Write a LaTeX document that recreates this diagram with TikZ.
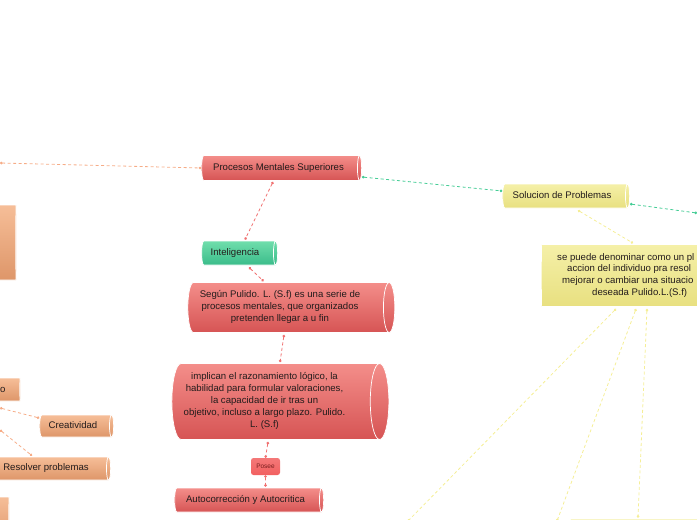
\documentclass[tikz,border=0pt]{standalone}
\usepackage{fontspec}
\setmainfont{Liberation Sans}
\usetikzlibrary{shapes.geometric,arrows.meta,calc}
\definecolor{redtop}{RGB}{244,142,138}
\definecolor{redbot}{RGB}{214,84,84}
\definecolor{greentop}{RGB}{112,222,172}
\definecolor{greenbot}{RGB}{58,188,138}
\definecolor{yeltop}{RGB}{245,240,168}
\definecolor{yelbot}{RGB}{232,224,128}
\definecolor{ortop}{RGB}{246,190,152}
\definecolor{orbot}{RGB}{222,150,105}
\definecolor{txt}{RGB}{35,28,28}
\definecolor{oline}{RGB}{246,172,135}
\definecolor{gline}{RGB}{70,205,150}
\definecolor{rline}{RGB}{240,112,112}
\definecolor{yline}{RGB}{245,238,150}
\definecolor{poseefill}{RGB}{242,96,96}
\definecolor{poseetxt}{RGB}{120,30,30}
\tikzset{
  cyl/.style={cylinder, shape border rotate=0, aspect=0.3, draw=white, line width=0.7pt,
    text=txt, font=\fontsize{9.6}{12}\selectfont, inner xsep=3pt, inner ysep=1pt},
  redc/.style={cyl, top color=redtop, bottom color=redbot},
  greenc/.style={cyl, top color=greentop, bottom color=greenbot},
  yelc/.style={cyl, top color=yeltop, bottom color=yelbot},
  orc/.style={cyl, top color=ortop, bottom color=orbot},
  sz/.style 2 args={minimum height=#1, minimum width=#2},
  conn/.style={dashed, dash pattern=on 3pt off 2.5pt, line width=0.8pt,
    {Circle[length=2.6pt]}-{Circle[length=2.6pt]}},
  olink/.style={conn, draw=oline},
  glink/.style={conn, draw=gline},
  rlink/.style={conn, draw=rline},
  ylink/.style={conn, draw=yline},
}
\newcommand\mylines[2]{\begin{tabular}{@{}c@{}}#2\end{tabular}\hspace*{#1}}
\begin{document}
\begin{tikzpicture}[x=1pt,y=-1pt]
\useasboundingbox (0,0) rectangle (697,520);
\clip (0,0) rectangle (697,520);
\renewcommand\arraystretch{1.0}

% red branch
\node[redc, sz={160pt}{25pt}] (proc) at (280,168) {\mylines{3pt}{Procesos Mentales Superiores}};
\node[greenc, sz={76pt}{24pt}] (intel) at (238,253) {\mylines{6pt}{Inteligencia}};
\node[redc, sz={207pt}{50pt}] (segun) at (287.5,307.5)
  {\mylines{15pt}{Según Pulido. L. (S.f) es una serie de\\procesos mentales, que organizados\\pretenden llegar a u fin}};
\node[redc, sz={217pt}{76pt}] (impl) at (274.5,401.5)
  {\mylines{20pt}{implican el razonamiento lógico, la\\habilidad para formular valoraciones,\\la capacidad de ir tras un\\objetivo, incluso a largo plazo. Pulido.\\L. (S.f)}};
\node[rounded corners=2.5pt, top color=poseefill!85!white, bottom color=poseefill, text=poseetxt,
  font=\fontsize{6.5}{7}\selectfont, minimum width=29pt, minimum height=17pt, inner sep=1pt] (posee) at (265.5,466.5) {Posee};
\node[redc, sz={149pt}{24pt}] (auto) at (247.5,500) {\mylines{4pt}{Autocorrección y Autocritica}};

% yellow branch
\node[yelc, sz={127pt}{24pt}] (sol) at (564.5,196) {\mylines{5pt}{Solucion de Problemas}};
\node[yelc, sz={198pt}{62pt}] (sp) at (640,275.5) {};
\node[anchor=north west, inner sep=0pt, align=left, text=txt, font=\fontsize{9.6}{11.8}\selectfont] (sptext) at (557,253)
  {se puede denominar como un pl\\\hspace*{10pt}accion del individuo pra resol\\\hspace*{5pt}mejorar o cambiar una situacio\\\hspace*{35pt}deseada Pulido.L.(S.f)};
\node[yelc, sz={240pt}{40pt}] (ybot) at (690,539) {};

% orange branch (left, mostly off-page)
\node[orc, sz={166pt}{75pt}] (obig) at (-67,242.5) {};
\node[orc, sz={120pt}{23pt}] (oo) at (-40,389.5) {};
\node[anchor=west, inner sep=0pt, text=txt, font=\fontsize{9.6}{10}\selectfont] (ootext) at (0,389.5) {o};
\node[orc, sz={74pt}{22pt}] (cre) at (75,426) {\mylines{4pt}{Creatividad}};
\node[orc, sz={122pt}{23pt}] (res) at (48,468.5) {\mylines{4pt}{Resolver problemas}};
\node[orc, sz={109pt}{46pt}] (obot) at (-45.5,520) {};

% free ends
\coordinate (l1) at (0,163);
\coordinate (l2) at (0,408);
\coordinate (l3) at (0,430);
\coordinate (r1) at (697,213);
\coordinate (d1) at (408,521);
\coordinate (d2) at (557,521);

% connectors
\draw[olink] (l1) -- (proc.west);
\draw[glink] ($(proc.east)+(0,9)$) -- ($(sol.west)+(0,-5)$);
\draw[glink] ($(sol.east)+(0,8)$) -- (r1);
\draw[rlink] ($(proc.south)+(-7,1)$) -- ($(intel.north)+(7,-1)$);
\draw[rlink] ($(intel.south)+(11,2)$) -- ($(segun.north)+(-24,-1)$);
\draw[rlink] ($(segun.south)+(-3.5,2)$) -- ($(impl.north)+(5.5,-1)$);
\draw[rlink] ($(impl.south)+(-6.5,2)$) -- (posee.north);
\draw[rlink] (posee.south) -- ($(auto.north)+(18,-1)$);
\draw[ylink] ($(sol.south)+(13.5,2)$) -- ($(sp.north)+(-7,-1)$);
\draw[ylink] ($(sp.south)+(-24,2)$) -- (d1);
\draw[ylink] ($(sp.south)+(-4,2)$) -- (d2);
\draw[ylink] ($(sp.south)+(7,2)$) -- ($(ybot.north)+(-52,-1)$);
\draw[olink] (l2) -- ($(cre.west)+(0,-8)$);
\draw[olink] (l3) -- ($(res.north)+(-16,-1)$);
\end{tikzpicture}
\end{document}
